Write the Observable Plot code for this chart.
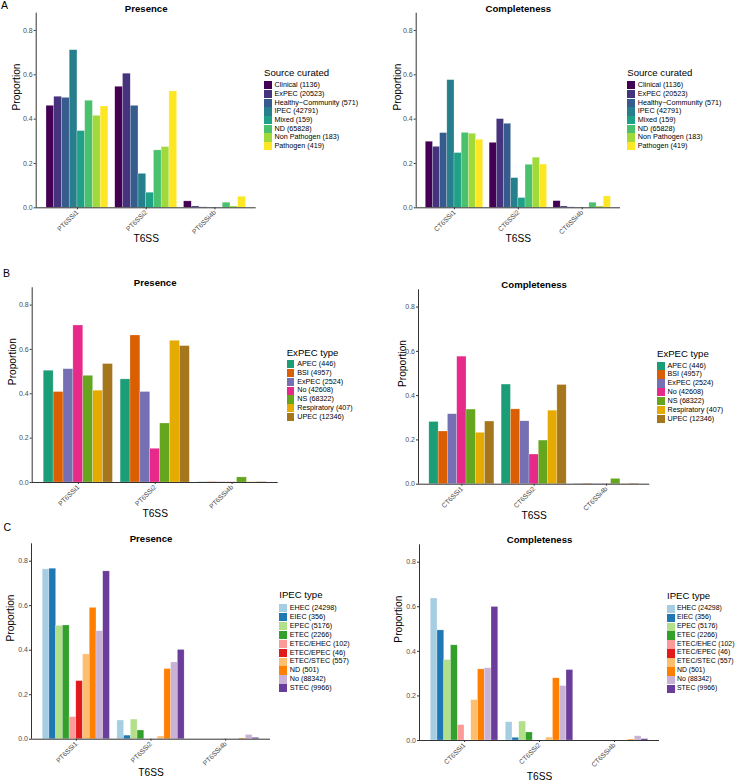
<!DOCTYPE html>
<html>
<head>
<meta charset="utf-8">
<script src="https://cdn.jsdelivr.net/npm/d3@7"></script>
<script src="https://cdn.jsdelivr.net/npm/@observablehq/plot@0.6"></script>
<style>
  html, body { margin: 0; padding: 0; background: #fff; overflow: hidden; }
  #fig { position: relative; width: 735px; height: 784px; font-family: "Liberation Sans", Arial, Helvetica, sans-serif; }
  #fig svg { position: absolute; overflow: visible; }
  .lab { position: absolute; white-space: nowrap; color: #000; }
</style>
</head>
<body>
<div id="fig"></div>
<script>
// T6SS system labels on the x axis
const presenceSystems = ["PT6SSi1", "PT6SSi2", "PT6SSi4b"];
const completeSystems = ["CT6SSi1", "CT6SSi2", "CT6SSi4b"];
const yTicks = [0, 0.2, 0.4, 0.6, 0.8];

// A: source curated
const sourceCurated = ["Clinical (1136)", "ExPEC (20523)", "Healthy\u2212Community (571)", "IPEC (42791)",
  "Mixed (159)", "ND (65828)", "Non Pathogen (183)", "Pathogen (419)"];
const sourceColors = ["#440154", "#46337E", "#365C8D", "#277F8E", "#1FA187", "#4AC16D", "#9FDA3A", "#FDE725"];
const sourcePresence = [
  [0.460, 0.501, 0.496, 0.711, 0.346, 0.483, 0.415, 0.457],
  [0.546, 0.605, 0.460, 0.153, 0.068, 0.259, 0.274, 0.525],
  [0.029, 0.006, 0.002, 0.001, 0.000, 0.023, 0.006, 0.050]
];
const sourceComplete = [
  [0.298, 0.275, 0.337, 0.576, 0.247, 0.338, 0.334, 0.307],
  [0.293, 0.400, 0.379, 0.134, 0.044, 0.194, 0.226, 0.195],
  [0.030, 0.006, 0.002, 0.001, 0.000, 0.023, 0.006, 0.051]
];

// B: ExPEC type
const expecType = ["APEC (446)", "BSI (4957)", "ExPEC (2524)", "No (42608)", "NS (68322)",
  "Respiratory (407)", "UPEC (12346)"];
const expecColors = ["#1B9E77", "#D95F02", "#7570B3", "#E7298A", "#66A61E", "#E6AB02", "#A6761D"];
const expecPresence = [
  [0.504, 0.408, 0.511, 0.708, 0.481, 0.414, 0.534],
  [0.465, 0.663, 0.408, 0.152, 0.266, 0.639, 0.615],
  [0.001, 0.002, 0.001, 0.001, 0.023, 0.001, 0.002]
];
const expecComplete = [
  [0.281, 0.238, 0.316, 0.576, 0.337, 0.232, 0.283],
  [0.450, 0.338, 0.284, 0.134, 0.197, 0.332, 0.448],
  [0.001, 0.002, 0.001, 0.001, 0.024, 0.001, 0.002]
];

// C: IPEC type
const ipecType = ["EHEC (24298)", "EIEC (356)", "EPEC (5176)", "ETEC (2266)", "ETEC/EHEC (102)",
  "ETEC/EPEC (46)", "ETEC/STEC (557)", "ND (501)", "No (88342)", "STEC (9966)"];
const ipecColors = ["#A6CEE3", "#1F78B4", "#B2DF8A", "#33A02C", "#FB9A99", "#E31A1C", "#FDBF6F",
  "#FF7F00", "#CAB2D6", "#6A3D9A"];
const ipecPresence = [
  [0.763, 0.766, 0.509, 0.511, 0.099, 0.261, 0.381, 0.590, 0.485, 0.754],
  [0.084, 0.016, 0.088, 0.039, 0.000, 0.000, 0.012, 0.315, 0.345, 0.401],
  [0.000, 0.000, 0.000, 0.000, 0.000, 0.000, 0.000, 0.003, 0.019, 0.006]
];
const ipecComplete = [
  [0.637, 0.494, 0.361, 0.427, 0.069, 0.000, 0.181, 0.319, 0.324, 0.599],
  [0.082, 0.012, 0.085, 0.036, 0.000, 0.000, 0.013, 0.279, 0.244, 0.316],
  [0.000, 0.000, 0.000, 0.000, 0.000, 0.000, 0.000, 0.004, 0.019, 0.006]
];

const fig = document.getElementById("fig");
const FONT = '"Liberation Sans", Arial, Helvetica, sans-serif';

function addText(txt, x, y, size, opts = {}) {
  const d = document.createElement("div");
  d.className = "lab";
  d.textContent = txt;
  d.style.left = x + "px";
  d.style.top = (y - size * 0.58) + "px";
  d.style.fontSize = size + "px";
  d.style.lineHeight = size + "px";
  if (opts.bold) d.style.fontWeight = "bold";
  fig.appendChild(d);
  return d;
}

// Grouped (dodged) bar panel: groups sit at x = 1, 2, 3, bars share 0.9 of each unit
function panel(p) {
  const n = p.cats.length;
  const bw = 0.9 / n;
  const rows = [];
  p.systems.forEach((s, gi) => p.cats.forEach((c, ci) =>
    rows.push({system: s, cat: c, gi, ci, value: p.values[gi][ci]})));
  const chart = Plot.plot({
    width: p.w, height: p.h,
    marginLeft: p.L - p.x0, marginRight: p.x0 + p.w - p.R,
    marginTop: p.T - p.y0, marginBottom: p.y0 + p.h - p.B,
    style: {background: "transparent", fontFamily: FONT, overflow: "visible"},
    x: {domain: [0.4, 3.6]},
    y: {domain: [0, 0.878]},
    color: {domain: p.cats, range: p.colors},
    marks: [
      Plot.rectY(rows, {
        x1: d => d.gi + 0.55 + d.ci * bw,
        x2: d => d.gi + 0.55 + (d.ci + 1) * bw,
        y: "value", fill: "cat",
        stroke: "white", strokeWidth: 0.5, strokeOpacity: 0.45
      }),
      Plot.axisY({ticks: yTicks, tickFormat: d3.format(".1f"), tickSize: 2, tickPadding: 1.5,
        label: null, fontSize: 7, fill: "#4d4d4d", stroke: "#333"}),
      Plot.axisX({ticks: [1, 2, 3], tickFormat: i => p.systems[i - 1], tickRotate: -45,
        tickSize: 2, tickPadding: 1.5, label: null, fontSize: 6.8, fill: "#4d4d4d", stroke: "#333"}),
      Plot.ruleX([0.4], {stroke: "#333", strokeWidth: 1}),
      Plot.ruleY([0], {stroke: "#333", strokeWidth: 1}),
      Plot.text([p.title], {text: d => d, frameAnchor: "top", dy: p.titleDy, fontSize: 9.6,
        fontWeight: "bold", fill: "#000"}),
      Plot.text(["Proportion"], {text: d => d, frameAnchor: "left", dx: p.ylabDx, rotate: -90,
        fontSize: 10.2, fill: "#000"}),
      Plot.text(["T6SS"], {text: d => d, frameAnchor: "bottom", dy: p.xlabDy, fontSize: 10.2, fill: "#000"})
    ]
  });
  chart.style.left = p.x0 + "px";
  chart.style.top = p.y0 + "px";
  fig.appendChild(chart);

  // legend, coloured through the chart's own colour scale
  const color = chart.scale("color");
  const lg = p.legend;
  addText(p.legendTitle, lg.x, lg.titleY, 9.6);
  p.cats.forEach((c, i) => {
    const cy = lg.firstY + i * lg.step;
    const sw = document.createElement("div");
    sw.style.position = "absolute";
    sw.style.left = lg.x + "px";
    sw.style.top = (cy - 4.1) + "px";
    sw.style.width = "7.6px";
    sw.style.height = "8.2px";
    sw.style.background = color.apply(c);
    fig.appendChild(sw);
    addText(c, lg.x + (lg.gap || 10.5), cy, lg.size || 7.2);
  });
}

const panels = [
  {x0: 0, y0: 0, w: 365, h: 255, L: 35.7, R: 255.7, T: 12.7, B: 207.3,
   systems: presenceSystems, cats: sourceCurated, colors: sourceColors, values: sourcePresence,
   title: "Presence", titleDy: -8.2, ylabDx: -19.7, xlabDy: 34.4,
   legendTitle: "Source curated", legend: {x: 264, titleY: 74, firstY: 85.3, step: 8.71}},
  {x0: 365, y0: 0, w: 370, h: 255, L: 415.7, R: 620, T: 12.7, B: 207.3,
   systems: completeSystems, cats: sourceCurated, colors: sourceColors, values: sourceComplete,
   title: "Completeness", titleDy: -8.2, ylabDx: -18, xlabDy: 34.4,
   legendTitle: "Source curated", legend: {x: 627.3, titleY: 74, firstY: 85.3, step: 8.71}},
  {x0: 0, y0: 255, w: 365, h: 265, L: 31.7, R: 277.7, T: 287.3, B: 482,
   systems: presenceSystems, cats: expecType, colors: expecColors, values: expecPresence,
   title: "Presence", titleDy: -9, ylabDx: -19, xlabDy: 34.7,
   legendTitle: "ExPEC type", legend: {x: 286.7, titleY: 353.3, firstY: 364, step: 8.88}},
  {x0: 365, y0: 255, w: 370, h: 265, L: 418, R: 649.3, T: 289.3, B: 483.7,
   systems: completeSystems, cats: expecType, colors: expecColors, values: expecComplete,
   title: "Completeness", titleDy: -8.6, ylabDx: -15.7, xlabDy: 34.6,
   legendTitle: "ExPEC type", legend: {x: 657, titleY: 355, firstY: 365.7, step: 8.88}},
  {x0: 0, y0: 520, w: 365, h: 264, L: 31, R: 270, T: 543.3, B: 738.7,
   systems: presenceSystems, cats: ipecType, colors: ipecColors, values: ipecPresence,
   title: "Presence", titleDy: -8.6, ylabDx: -20.5, xlabDy: 36.3,
   legendTitle: "IPEC type", legend: {x: 279.3, titleY: 595.7, firstY: 608.3, step: 8.89}},
  {x0: 365, y0: 520, w: 370, h: 264, L: 419, R: 659, T: 544.3, B: 740,
   systems: completeSystems, cats: ipecType, colors: ipecColors, values: ipecComplete,
   title: "Completeness", titleDy: -8.6, ylabDx: -20.7, xlabDy: 39.3,
   legendTitle: "IPEC type", legend: {x: 667, titleY: 596.7, firstY: 608.7, step: 8.96, gap: 10, size: 6.9}}
];
panels.forEach(panel);

// panel letters
addText("A", 1, 6.5, 10.5);
addText("B", 3, 274.5, 10.5);
addText("C", 3.5, 528, 10.5);
</script>
</body>
</html>
